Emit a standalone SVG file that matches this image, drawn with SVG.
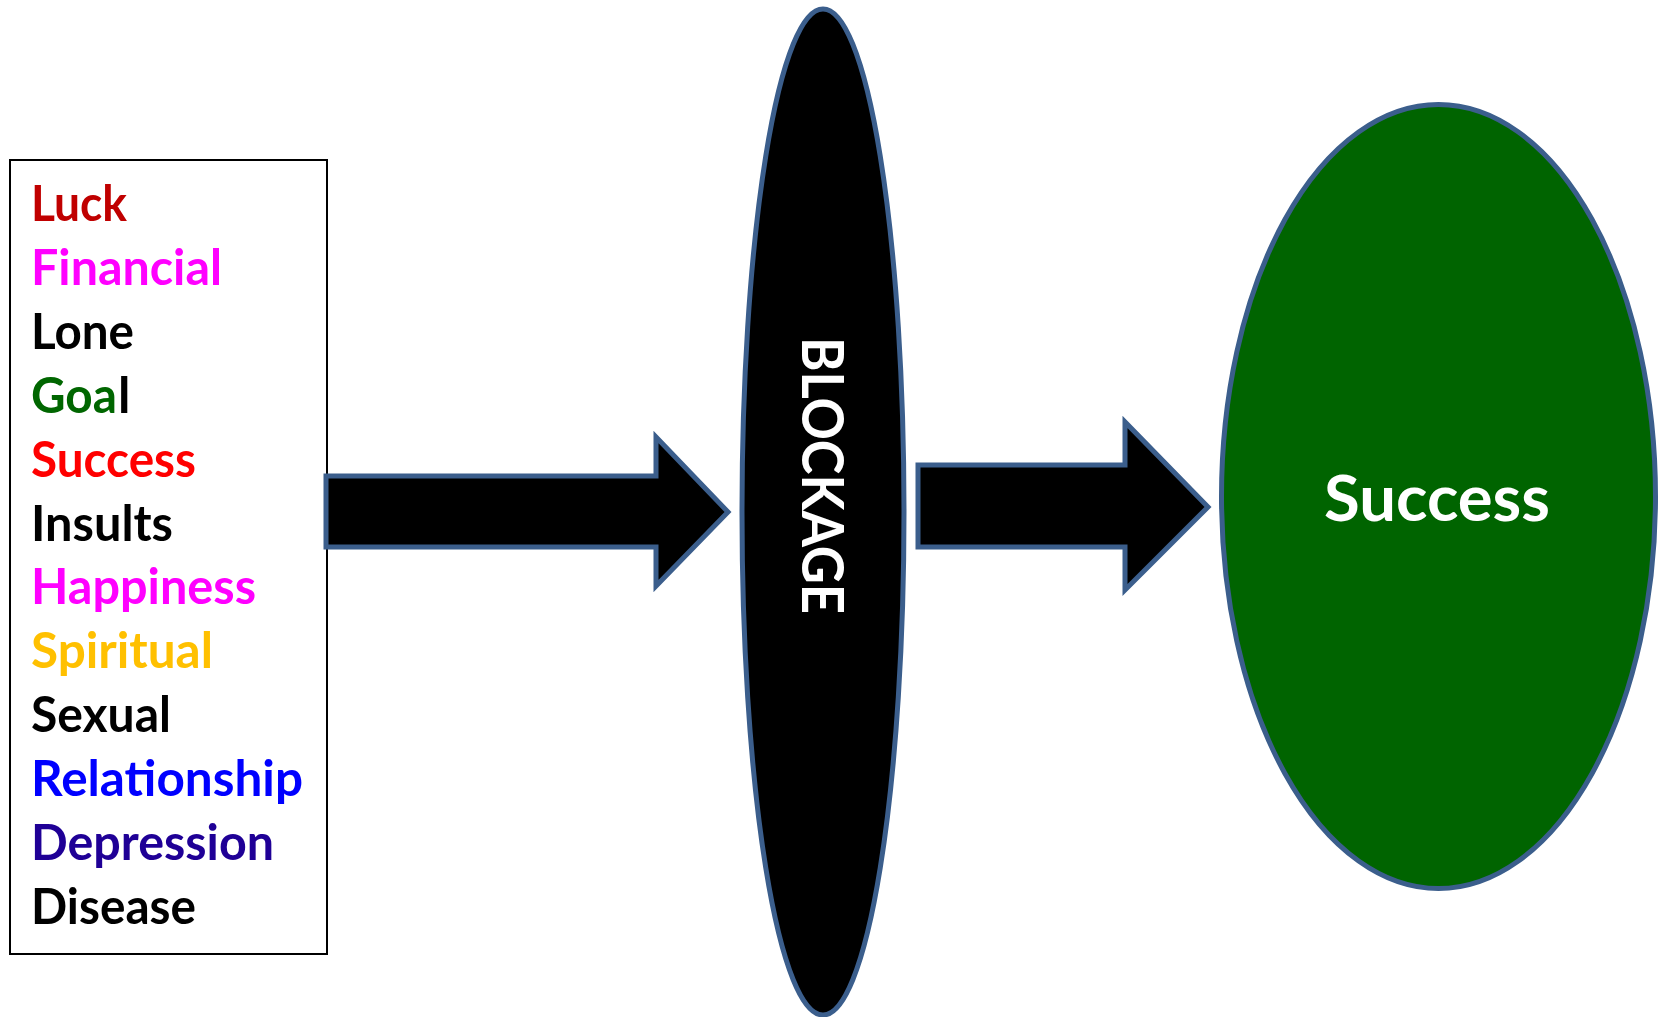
<svg xmlns="http://www.w3.org/2000/svg" width="1663" height="1017" viewBox="0 0 1663 1017">
<style>
.item{font-family:Lato,"Liberation Sans",sans-serif;font-weight:bold;font-size:50px}
.arrow{fill:#000;stroke:#3B5E8C;stroke-width:5;stroke-linejoin:miter}
.shape{stroke:#3B5E8C;stroke-width:5}
.white{font-family:Lato,"Liberation Sans",sans-serif;font-weight:bold;fill:#fff}
</style>
<rect width="1663" height="1017" fill="#fff"/>
<g id="list">
<rect x="10" y="160" width="317" height="794" fill="#fff" stroke="#000" stroke-width="2"/>
<text class="item" x="31" y="221" fill="#C00000" textLength="96" lengthAdjust="spacingAndGlyphs">Luck</text>
<text class="item" x="31" y="285" fill="#FF00FF" textLength="191" lengthAdjust="spacingAndGlyphs">Financial</text>
<text class="item" x="31" y="349" fill="#000" textLength="103" lengthAdjust="spacingAndGlyphs">Lone</text>
<text class="item" x="31" y="413" fill="#006600" textLength="86" lengthAdjust="spacingAndGlyphs">Goa</text>
<text class="item" x="118" y="413" fill="#000">l</text>
<text class="item" x="31" y="477" fill="#FF0000" textLength="165" lengthAdjust="spacingAndGlyphs">Success</text>
<text class="item" x="31" y="541" fill="#000" textLength="142" lengthAdjust="spacingAndGlyphs">Insults</text>
<text class="item" x="31" y="604" fill="#FF00FF" textLength="225" lengthAdjust="spacingAndGlyphs">Happiness</text>
<text class="item" x="31" y="668" fill="#FFC000" textLength="182" lengthAdjust="spacingAndGlyphs">Spiritual</text>
<text class="item" x="31" y="732" fill="#000" textLength="140" lengthAdjust="spacingAndGlyphs">Sexual</text>
<text class="item" x="31" y="796" fill="#0000FF" textLength="272" lengthAdjust="spacingAndGlyphs">Relationship</text>
<text class="item" x="31" y="860" fill="#1F0096" textLength="243" lengthAdjust="spacingAndGlyphs">Depression</text>
<text class="item" x="31" y="924" fill="#000" textLength="165" lengthAdjust="spacingAndGlyphs">Disease</text>
</g>
<g id="connectors">
<polygon class="arrow" points="326,476 656,476 656,437 728,512 656,586 656,547 326,547"/>
<polygon class="arrow" points="918,465 1125,465 1125,422 1208,507 1125,590 1125,547 918,547"/>
</g>
<g id="blockage">
<ellipse class="shape" cx="823" cy="512" rx="81" ry="503" fill="#000"/>
<text class="white" transform="translate(802,475.5) rotate(90)" x="0" y="0" text-anchor="middle" font-size="57" textLength="277" lengthAdjust="spacingAndGlyphs">BLOCKAGE</text>
</g>
<g id="success">
<ellipse class="shape" cx="1438.5" cy="496.5" rx="217" ry="392" fill="#006400"/>
<text class="white" x="1437" y="521" text-anchor="middle" font-size="64" textLength="226" lengthAdjust="spacingAndGlyphs">Success</text>
</g>
</svg>
